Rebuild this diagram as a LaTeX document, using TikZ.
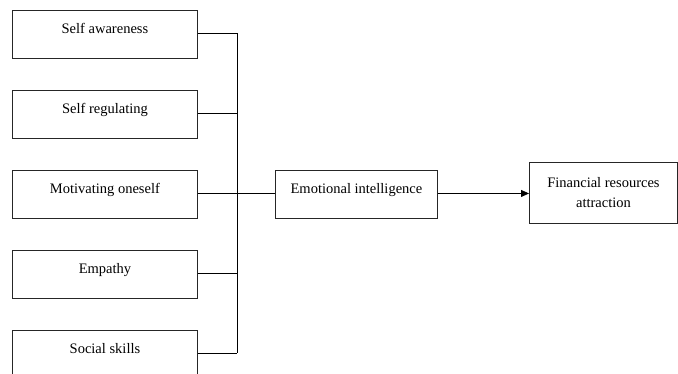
\documentclass[tikz,border=0pt]{standalone}
\usepackage{fontspec}
\setmainfont{Liberation Serif}
\usetikzlibrary{arrows.meta}

\tikzset{
  factor/.style={draw=black!85, line width=0.9pt, anchor=north west, minimum width=185pt,
    text height=20pt, text depth=22pt, inner ysep=3pt, font=\fontsize{14.5}{16}\selectfont},
  link/.style={line width=0.8pt, black}
}

\begin{document}
\begin{tikzpicture}[x=1pt, y=-1pt]
        \useasboundingbox (0,0) rectangle (678,373);
        \clip (0,0) rectangle (678,373);
        \node[factor] (aware) at (12,10) {Self awareness};
        \node[factor] (regul) at (12,90) {Self regulating};
        \node[factor] (motiv) at (12,170) {Motivating oneself};
        \node[factor] (empat) at (12,250) {Empathy};
        \node[factor] (social) at (12,330) {Social skills};
        \node[factor, minimum width=162pt] (emot) at (275,170) {Emotional intelligence};
        \node[draw=black!85, line width=0.9pt, anchor=north west, minimum width=148pt, minimum height=61pt,
          align=center, font=\fontsize{14.5}{20}\selectfont] (finance) at (529,162) {Financial resources\\attraction};
        \coordinate (bus) at (237,0);
        % factors into the bus
        \draw[link] (aware.base east) -- (aware.base east -| bus);
        \draw[link] (regul.base east) -- (regul.base east -| bus);
        \draw[link] (motiv.base east) -- (motiv.base east -| bus);
        \draw[link] (empat.base east) -- (empat.base east -| bus);
        \draw[link] (social.base east) -- (social.base east -| bus);
        \draw[link] (aware.base east -| bus) -- (social.base east -| bus);
        \draw[link] (emot.base west -| bus) -- (emot.base west);
        \draw[link, -{Triangle[length=8pt, width=7pt]}] (emot.base east) -- (emot.base east -| finance.west);
    \end{tikzpicture}
\end{document}
